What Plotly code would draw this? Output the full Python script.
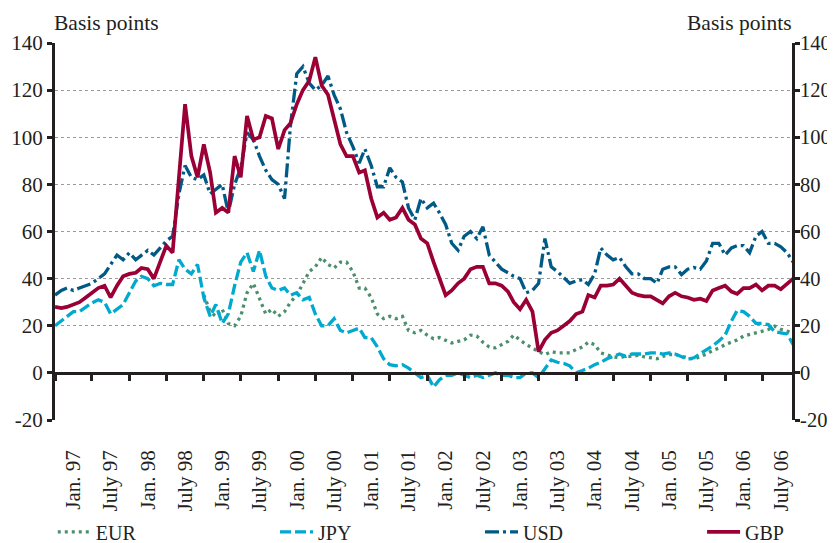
import pandas as pd
import plotly.graph_objects as go

# Monthly readings, Jan 1997 .. Dec 2006 (basis points)
months = pd.date_range("1997-01-01", periods=120, freq="MS")

eur = [None] * 24 + [
    33, 26, 24, 27, 21, 20, 24, 34, 38, 32, 25, 27,
    24, 26, 30, 33, 38, 43, 45, 49, 46, 44.5, 47, 47,
    43, 36, 36, 32, 25, 23, 24, 23, 24, 18, 17, 18,
    16, 14.5, 15, 14, 12.7, 13.4, 14, 16, 15.6, 13, 11, 10.6,
    12, 13.4, 16, 14, 12, 10.6, 9, 7.8, 9, 8.5, 8.5, 8.5,
    9.9, 11, 13, 12, 8.5, 7.5, 6.8, 6.5, 7, 7, 7.5, 6.8,
    6.4, 6, 7, 7.8, 7.8, 7, 6.4, 5.8, 6.8, 8, 9.5, 10.5,
    12, 13, 14, 15.6, 16.3, 17, 17.7, 18.4, 19.8, 18.5, 17.7, 17,
]

jpy = [
    20, 22, 24, 26, 26, 28, 29.7, 31, 30, 25, 27, 29,
    34, 39, 41, 40, 37, 38, 37.5, 37.5, 48, 44, 42, 46,
    32, 24, 29, 21, 25, 37, 47, 51, 43, 52, 41, 36,
    35, 36, 33, 34, 31, 32, 25, 20, 20, 23, 18, 17,
    18, 19, 15, 15, 11, 6, 3.5, 3, 3.5, 2, 0, -2,
    -1, -6, -3, -1, -1, 0, -1, -2, -1, -2, -1, 0,
    -1, -1, -2, -2, 0, 0, -2, 2, 5.5, 4.5, 4, 3,
    0, 1, 2, 3.5, 4.5, 6, 7, 8, 7, 8, 8, 8,
    8.5, 8.5, 8, 8.5, 8, 7, 5.8, 6.4, 8, 9.5, 11.5, 13.5,
    16, 22, 26.5, 26, 24, 21, 21, 20.5, 17.5, 17, 16.5, 12,
]

usd = [
    33, 35, 36, 35, 36, 37, 38, 40, 42, 46, 50, 48,
    51, 48, 50, 52, 50, 53, 56, 58, 76, 88, 83, 82,
    84, 76, 78, 80, 68, 80, 87, 102, 99, 92, 86, 82,
    80, 74, 105, 127, 130, 123, 120, 122, 126, 118, 112, 102,
    96, 89, 95, 88, 79, 79, 87, 83, 81, 70, 65, 74,
    70, 72, 68, 63, 55, 52, 58, 60, 57, 62, 50, 47,
    44, 42.5, 41, 40, 34, 35, 38, 57, 45, 43, 40.5, 38,
    39, 39.6, 37.5, 42, 53, 50, 48, 49, 45, 42, 42, 40,
    40, 38, 44, 45, 45, 41.7, 44, 44.7, 44, 47.5, 55, 55,
    50, 53, 54, 54, 51, 58, 60, 55, 55, 53.5, 51, 47,
]

gbp = [
    28, 27.5, 28, 29, 30, 32, 34, 36, 37, 32, 37, 41,
    42, 42.5, 44.5, 44, 40, 47, 54, 51, 82, 114, 92, 83,
    97, 85, 68, 70, 68, 92, 83, 109, 99, 100, 109, 108,
    95, 103, 106, 114, 120, 124, 134, 122, 118, 108, 97, 92,
    92, 85, 86, 74, 66, 68, 65, 66, 70, 65, 63, 57,
    55, 47, 40, 33, 35, 38, 40, 44, 45, 45, 38, 38,
    37, 34.5, 30, 27, 31, 26, 9, 14, 17, 18, 20, 22,
    25, 26, 33, 32, 37, 37, 37.5, 40, 37, 34, 33, 32.5,
    32.5, 31, 29.5, 32.5, 34, 32.5, 32, 31, 31.5, 30.5, 35, 36,
    37, 34.5, 33.5, 36, 36, 37.5, 35, 37, 37, 35.5, 38, 40,
]

period_starts = pd.date_range("1997-01-01", "2007-01-01", freq="6MS")
label_dates = [d + pd.DateOffset(months=3) for d in period_starts[:-1]]
label_text = []
for d in period_starts[:-1]:
    label_text.append(("Jan. " if d.month == 1 else "July ") + d.strftime("%y"))

y_ticks = [-20, 0, 20, 40, 60, 80, 100, 120, 140]
y_tick_text = ["-20", "0", "20", "40", "60", "80", "100", "120", "140"]

FONT = "Liberation Serif"
TXT = "#231f20"
x_range = ["1997-01-01", "2006-11-25"]

fig = go.Figure()
styles = [
    ("EUR", eur, "#4b8f6e", "3px,4px", 3.3, "legend", -0.003),
    ("JPY", jpy, "#00a9cf", "11px,4px", 3.3, "legend2", 0.2985),
    ("USD", usd, "#005a85", "14px,4px,3px,4px", 3.3, "legend3", 0.5767),
    ("GBP", gbp, "#9a0036", "solid", 3.7, "legend4", 0.878),
]
legend_cfg = {}
for name, vals, col, dash, w, lg, lx in styles:
    fig.add_trace(go.Scatter(x=months, y=vals, name=name, mode="lines",
                             line=dict(color=col, width=w, dash=dash),
                             legend=lg, connectgaps=False, hoverinfo="skip"))
    legend_cfg[lg] = dict(orientation="h", x=lx, xanchor="left",
                          y=-0.297, yanchor="middle", itemwidth=33,
                          font=dict(family=FONT, size=20, color=TXT),
                          bgcolor="rgba(0,0,0,0)")

# helper trace for the secondary axes
fig.add_trace(go.Scatter(x=[months[0]], y=[0], xaxis="x2", yaxis="y2",
                         mode="lines", showlegend=False, hoverinfo="skip",
                         line=dict(width=0)))

TICKFONT = dict(family=FONT, size=21, color=TXT)

# the page body has an 8px default margin, so the figure is 8px smaller
fig.update_layout(
    width=827, height=535,
    margin=dict(l=47, r=43, t=35, b=123, autoexpand=False),
    paper_bgcolor="white", plot_bgcolor="white",
    font=dict(family=FONT, size=20, color=TXT),
    showlegend=True,
    **legend_cfg,
    xaxis=dict(type="date", range=x_range, showgrid=False, zeroline=False,
               showline=False, tickmode="array", tickvals=label_dates,
               ticktext=label_text, tickangle=-90, ticks="",
               ticklabelstandoff=25, automargin=False, tickfont=TICKFONT),
    xaxis2=dict(type="date", range=x_range, overlaying="x", anchor="free",
                position=0.125, showgrid=False, zeroline=False,
                showline=True, linecolor="#231f20", linewidth=3,
                tickmode="array", tickvals=list(period_starts[:-1]),
                ticks="outside", ticklen=6, tickwidth=3, tickcolor="#231f20",
                showticklabels=False, automargin=False),
    yaxis=dict(range=[-20, 140], tickmode="array", tickvals=y_ticks,
               ticktext=y_tick_text,
               showgrid=True, gridcolor="#9a9a9a", griddash="dot", gridwidth=1,
               zeroline=False, showline=True, linecolor="#231f20", linewidth=3,
               ticks="outside", ticklen=5, tickwidth=2.5, tickcolor="#231f20",
               automargin=False, tickfont=TICKFONT),
    yaxis2=dict(range=[-20, 140], overlaying="y", side="right", anchor="x2",
                tickmode="array", tickvals=y_ticks, ticktext=y_tick_text,
                showgrid=False, ticklabelstandoff=-4,
                zeroline=False, showline=True, linecolor="#231f20", linewidth=3,
                ticks="outside", ticklen=5, tickwidth=2.5, tickcolor="#231f20",
                automargin=False, tickfont=dict(family=FONT, size=20.5, color=TXT)),
    annotations=[
        dict(text="Basis points", xref="paper", yref="paper", x=0, y=1,
             xanchor="left", yanchor="bottom", xshift=-3, yshift=6,
             showarrow=False, font=dict(family=FONT, size=21.5, color=TXT)),
        dict(text="Basis points", xref="paper", yref="paper", x=1, y=1,
             xanchor="right", yanchor="bottom", xshift=2, yshift=6,
             showarrow=False, font=dict(family=FONT, size=21.5, color=TXT)),
    ],
)

fig.write_html("out.html")
